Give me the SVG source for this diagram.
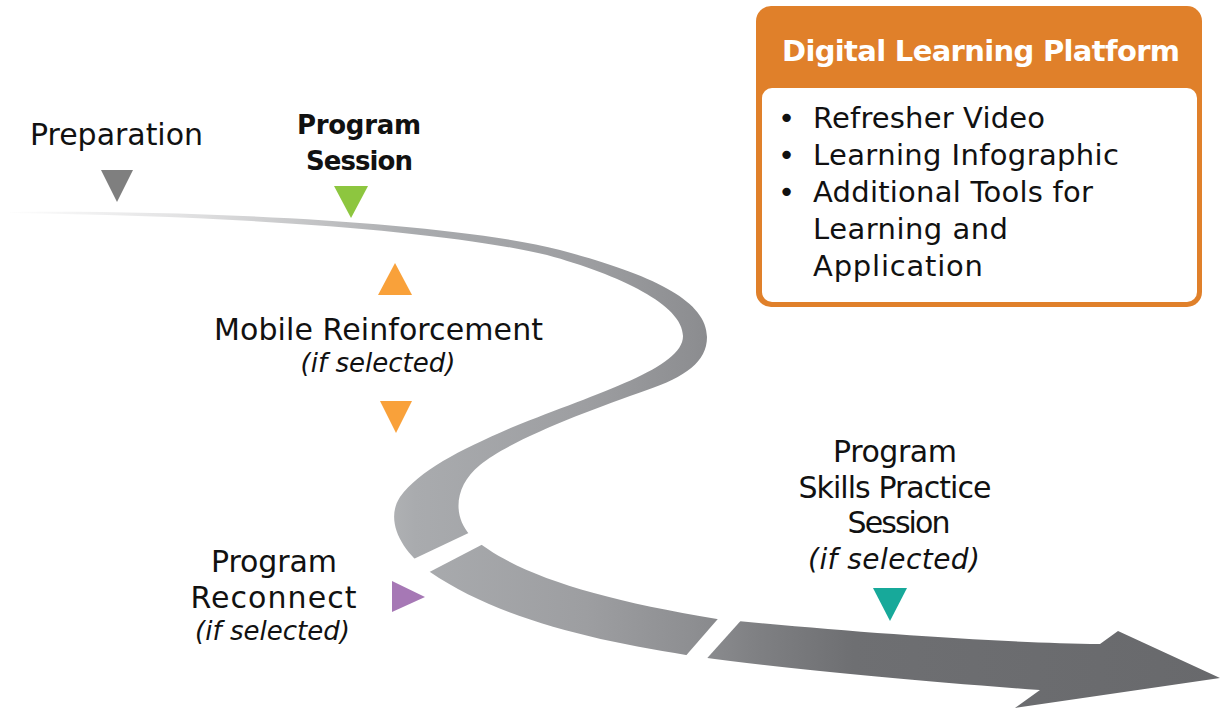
<svg xmlns="http://www.w3.org/2000/svg" width="1220" height="711" viewBox="0 0 1220 711">
  <defs>
    <linearGradient id="roadGrad" gradientUnits="userSpaceOnUse" x1="0" y1="0" x2="1220" y2="0">
      <stop offset="0" stop-color="#ffffff"/>
      <stop offset="0.15" stop-color="#e2e2e3"/>
      <stop offset="0.29" stop-color="#b9babc"/>
      <stop offset="0.34" stop-color="#a9abae"/>
      <stop offset="0.48" stop-color="#9d9ea1"/>
      <stop offset="0.57" stop-color="#8d8e91"/>
      <stop offset="0.62" stop-color="#7f8083"/>
      <stop offset="0.7" stop-color="#6e6f72"/>
      <stop offset="1" stop-color="#68696c"/>
    </linearGradient>
  </defs>
  <style>
    .t { font-family: "DejaVu Sans", "Liberation Sans", sans-serif; fill: #111111; }
    .lbl { font-size: 30px; text-anchor: middle; }
    .bold { font-weight: bold; font-size: 26px; text-anchor: middle; }
    .it { font-style: italic; font-size: 26px; text-anchor: middle; }
    .item { font-size: 29px; }
    .hdr { font-family: "DejaVu Sans", "Liberation Sans", sans-serif; font-weight: bold; font-size: 29px; fill: #ffffff; }
    .gap { fill: #ffffff; }
  </style>
  <rect width="1220" height="711" fill="#ffffff"/>

  <g id="connectors">
    <path id="road" fill="url(#roadGrad)" d="M 10,212 C 200,210 450,222 560,250 C 650,274 707,300 707,337 C 707,362 685,377 647,390 C 590,410 510,440 480,465 C 455,485 452,515 470,535 C 510,572 590,598 717,619 C 850,632 1000,643 1100,644 L 1118,631 L 1220,678 L 1015,708 L 1040,690 C 900,680 780,668 700,657 C 600,642 500,620 430,572 C 400,550 385,520 400,497 C 420,470 460,450 513,427 C 600,392 683,368 683,336 C 683,305 620,275 547,255 C 450,232 250,216 10,213 Z"/>
    <polygon class="gap" points="401,565 477,529 489,541 416,579"/>
    <polygon class="gap" points="723,613 683,659 701,665 745,616"/>
  </g>

  <g id="preparation">
    <text class="t lbl" x="116.5" y="145" textLength="173">Preparation</text>
    <polygon fill="#7f7f7f" points="101,170 133,170 117,202"/>
  </g>

  <g id="program-session">
    <text class="t bold" x="359" y="134" textLength="124">Program</text>
    <text class="t bold" x="359.5" y="170" textLength="107">Session</text>
    <polygon fill="#8dc63f" points="334,186 368,186 351,218"/>
  </g>

  <g id="mobile-reinforcement">
    <polygon fill="#f9a13a" points="395,263 412,295 378,295"/>
    <text class="t lbl" x="378.5" y="340" textLength="329">Mobile Reinforcement</text>
    <text class="t it" x="378" y="372" textLength="155">(if selected)</text>
    <polygon fill="#f9a13a" points="380,401 412,401 396,433"/>
  </g>

  <g id="program-reconnect">
    <text class="t lbl" x="274" y="572" textLength="126">Program</text>
    <text class="t lbl" x="273.5" y="608" textLength="166">Reconnect</text>
    <text class="t it" x="272.5" y="640" textLength="155">(if selected)</text>
    <polygon fill="#a678b5" points="392,581 392,612 425,597"/>
  </g>

  <g id="skills-practice">
    <text class="t lbl" x="895" y="462" textLength="124">Program</text>
    <text class="t lbl" x="895" y="498" textLength="193">Skills Practice</text>
    <text class="t lbl" x="899" y="533" textLength="103">Session</text>
    <text class="t it" style="font-size:28px" x="894" y="569" textLength="172">(if selected)</text>
    <polygon fill="#17a99a" points="873,588 907,588 890,621"/>
  </g>

  <g id="digital-platform">
    <rect x="756" y="6" width="446" height="301" rx="15" ry="15" fill="#e0802a"/>
    <rect x="762" y="88" width="435" height="214" rx="10" ry="10" fill="#ffffff"/>
    <text class="hdr" x="782" y="61" textLength="398">Digital Learning Platform</text>
    <text class="t item" x="778" y="128">•</text>
    <text class="t item" x="778" y="165">•</text>
    <text class="t item" x="778" y="202">•</text>
    <text class="t item" x="813" y="128" textLength="232">Refresher Video</text>
    <text class="t item" x="813" y="165" textLength="306">Learning Infographic</text>
    <text class="t item" x="813" y="202" textLength="280">Additional Tools for</text>
    <text class="t item" x="813" y="239" textLength="195">Learning and</text>
    <text class="t item" x="813" y="276" textLength="170">Application</text>
  </g>
</svg>
